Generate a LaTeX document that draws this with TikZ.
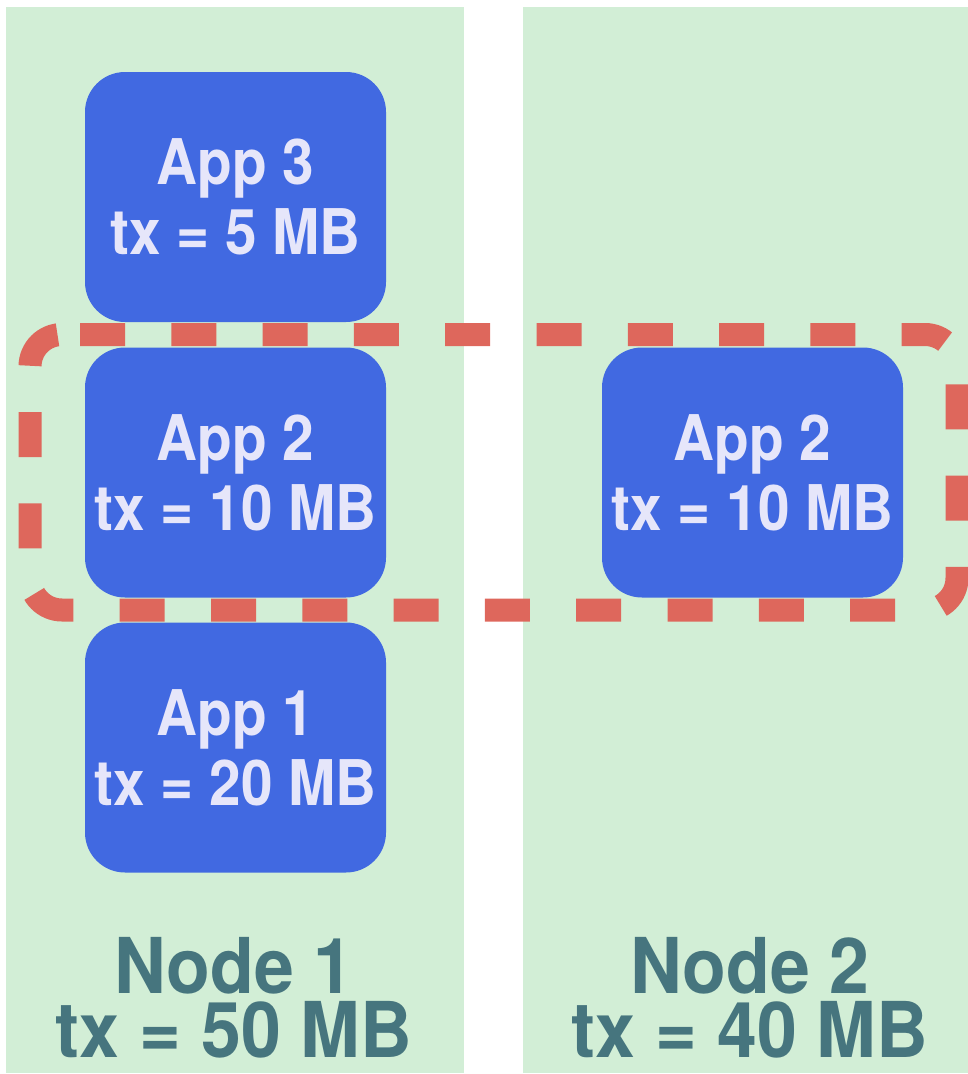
\documentclass[tikz,border=0pt]{standalone}
\usepackage{fontspec}
\newfontfamily\appfont{TeX Gyre Heros}[FakeStretch=0.9]
\newfontfamily\nodefont{TeX Gyre Heros}[FakeStretch=0.93]
\definecolor{panelgreen}{HTML}{D2EED6}
\definecolor{appblue}{HTML}{4169E1}
\definecolor{dashred}{HTML}{DE675C}
\definecolor{apptext}{HTML}{E6E6FA}
\definecolor{nodetext}{HTML}{46757E}
\tikzset{
  panel/.style={fill=panelgreen, draw=none},
  appbox/.style={rectangle, fill=appblue, draw=none, rounded corners=40pt,
    minimum width=301pt, minimum height=250pt, inner sep=0pt,
    text=apptext, align=center,
    font=\appfont\bfseries\fontsize{63}{70}\selectfont},
  nodelabel/.style={inner sep=0pt, text=nodetext, anchor=base,
    font=\nodefont\bfseries\fontsize{77}{64}\selectfont},
  groupline/.style={draw=dashred, line width=23pt, rounded corners=32pt,
    dash pattern=on 45pt off 46.3pt}
}
\begin{document}
\begin{tikzpicture}[x=1pt, y=-1pt]
\useasboundingbox (0,0) rectangle (968,1074);
% panels
\path[panel] (6,7) rectangle (464,1073);
\path[panel] (523,7) rectangle (968,1073);
% dashed group outline
\draw[groupline] (80,334.5) -- (957,334.5) -- (957,610) -- (30,610) -- (30,334.5) -- (80,334.5);
% app boxes
\node[appbox] (app3) at (235.5,197) {App 3\\tx = 5 MB};
\node[appbox] (app2a) at (235.5,472.5) {App 2\\tx = 10 MB};
\node[appbox] (app1) at (235.5,747.5) {App 1\\tx = 20 MB};
\node[appbox] (app2b) at (752.5,472.5) {App 2\\tx = 10 MB};
% node labels
\node[nodelabel] (n1name) at (234,993) {Node 1};
\node[nodelabel] (n1tx) at (234,1057) {tx = 50 MB};
\node[nodelabel] (n2name) at (750,993) {Node 2};
\node[nodelabel] (n2tx) at (750,1057) {tx = 40 MB};
\end{tikzpicture}
\end{document}
